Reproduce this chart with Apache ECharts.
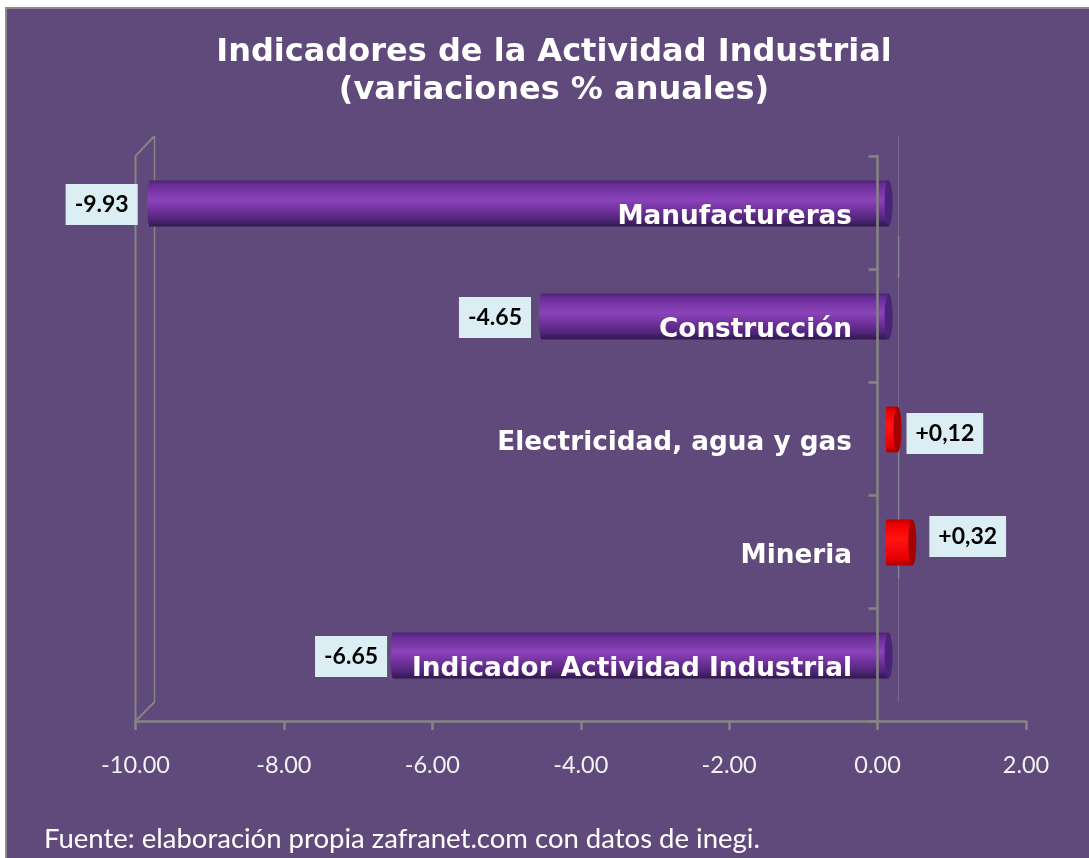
<!DOCTYPE html>
<html>
<head>
<meta charset="utf-8">
<title>Indicadores de la Actividad Industrial</title>
<script src="https://cdn.jsdelivr.net/npm/echarts@6/dist/echarts.min.js"></script>
<style>
  html, body { margin: 0; padding: 0; background: #fff; width: 1089px; height: 858px; overflow: hidden; }
  /* marco: solo se ve borde arriba e izquierda */
  .frame { position: absolute; left: 5px; top: 7px; right: 0; bottom: 0; background: #604a7b; border-left: 2px solid #8c8c8c; border-top: 2px solid #8c8c8c; }
  #chart { position: absolute; left: 0; top: 0; width: 1089px; height: 858px; }
</style>
</head>
<body>
<div class="frame"></div>
<div id="chart"></div>
<script>
  const categories = ['Manufactureras', 'Construcción', 'Electricidad, agua y gas', 'Mineria', 'Indicador Actividad Industrial'];
  const values = [-9.93, -4.65, 0.12, 0.32, -6.65];
  const valueLabels = ['-9.93', '-4.65', '+0,12', '+0,32', '-6.65'];

  const DEPTH_X = 11;   // desplazamiento 3D de las barras
  const DEPTH_Y = 9;
  const labelNudge = [[-12, 1], [-10.5, 1], [5, 4], [13, -6], [-6, 1]];   // las etiquetas estan movidas a mano en el original

  const purple = new echarts.graphic.LinearGradient(0, 0, 0, 1, [
    { offset: 0, color: '#4a2470' },
    { offset: 0.08, color: '#672c94' },
    { offset: 0.42, color: '#8b43bb' },
    { offset: 0.65, color: '#6f3199' },
    { offset: 0.85, color: '#4f2678' },
    { offset: 1, color: '#33174f' }
  ]);
  const red = new echarts.graphic.LinearGradient(0, 0, 0, 1, [
    { offset: 0, color: '#c00000' },
    { offset: 0.12, color: '#f20000' },
    { offset: 0.42, color: '#ff1414' },
    { offset: 0.85, color: '#e80000' },
    { offset: 1, color: '#a80000' }
  ]);

  // cilindro de cada barra
  function renderBar(params, api) {
    const i = params.dataIndex;
    const val = api.value(0);
    const p0 = api.coord([0, i]);
    const p1 = api.coord([val, i]);
    const h = api.size([0, 1])[1] * 0.405;
    const cy = p0[1] - DEPTH_Y;
    const left = Math.min(p0[0], p1[0]) + DEPTH_X - 2;
    const right = Math.max(p0[0], p1[0]) + DEPTH_X;
    const fill = val < 0 ? purple : red;
    const capColor = val < 0 ? '#4a2478' : '#a50000';
    const nudge = labelNudge[i];
    return {
      type: 'group',
      children: [
        { type: 'ellipse', shape: { cx: left, cy: cy, rx: val < 0 ? 2.5 : 1, ry: h / 2 }, style: { fill: fill } },
        { type: 'rect', shape: { x: left, y: cy - h / 2, width: right - left, height: h }, style: { fill: fill } },
        { type: 'ellipse', shape: { cx: right, cy: cy, rx: 4, ry: h / 2 }, style: { fill: capColor } },
        {
          type: 'text',
          x: (val < 0 ? left : right + 4) + nudge[0],
          y: cy + nudge[1],
          style: {
            text: valueLabels[i],
            fill: '#000',
            font: 'bold 23px Lato, "Open Sans", sans-serif',
            backgroundColor: '#daeef3',
            padding: [9, 9, 9, 9],
            align: val < 0 ? 'right' : 'left',
            verticalAlign: 'middle'
          }
        }
      ]
    };
  }

  // paredes del grafico 3D
  function renderWalls(params, api) {
    const c = params.coordSys;
    const bottom = c.y + c.height;
    const zero = api.coord([0, 0])[0];
    const line = (x1, y1, x2, y2, color, width) => ({
      type: 'line',
      shape: { x1: x1, y1: y1, x2: x2, y2: y2 },
      style: { stroke: color, lineWidth: width }
    });
    return {
      type: 'group',
      children: [
        line(c.x, c.y, c.x, bottom, '#858585', 2),
        line(c.x + 19, c.y - 20, c.x + 19, bottom - 19, '#858585', 1.5),
        line(c.x, c.y, c.x + 19, c.y - 20, '#858585', 2),
        line(c.x, bottom, c.x + 19, bottom - 19, '#858585', 2),
        line(zero + 21, c.y - 20, zero + 21, bottom - 19, '#76698c', 1),
        line(zero + 21, c.y + 80, zero + 21, c.y + 122, '#85808f', 1.5),
        line(zero + 21, c.y + 280, zero + 21, c.y + 422, '#85808f', 1.5)
      ]
    };
  }

  const chart = echarts.init(document.getElementById('chart'), null, { renderer: 'canvas' });
  chart.setOption({
    animation: false,
    backgroundColor: 'transparent',
    title: [{
      text: 'Indicadores de la Actividad Industrial\n(variaciones % anuales)',
      left: 549,
      top: 29,
      textAlign: 'center',
      textStyle: { color: '#fff', fontFamily: 'DejaVu Sans', fontWeight: 'bold', fontSize: 32, lineHeight: 38 }
    }, {
      text: 'Fuente: elaboración propia zafranet.com con datos de inegi.',
      left: 39,
      top: 820,
      textStyle: { color: '#fff', fontFamily: 'Lato', fontWeight: 'normal', fontSize: 27.5 }
    }],
    grid: { left: 135.5, right: 63, top: 156, bottom: 137, containLabel: false, outerBoundsMode: 'none' },
    xAxis: {
      type: 'value',
      min: -10,
      max: 2,
      interval: 2,
      splitLine: { show: false },
      axisLine: { show: true, onZero: false, lineStyle: { color: '#858585', width: 2.5 } },
      axisTick: { show: true, length: 9, lineStyle: { color: '#858585', width: 2.5 } },
      axisLabel: {
        color: '#f2f2f2',
        fontFamily: 'Lato',
        fontSize: 23.5,
        margin: 32,
        formatter: v => v.toFixed(2)
      }
    },
    yAxis: {
      type: 'category',
      inverse: true,
      data: categories,
      z: 3,
      axisLine: { show: true, onZero: true, lineStyle: { color: '#858585', width: 2.5 } },
      axisTick: { show: true, length: 9, lineStyle: { color: '#858585', width: 2.5 } },
      splitLine: { show: false },
      axisLabel: {
        interval: 0,
        color: '#fff',
        fontFamily: 'DejaVu Sans',
        fontWeight: 'bold',
        fontSize: 26.3,
        margin: -716.5,   // las etiquetas van pegadas al eje en cero, no al borde del grid
        verticalAlign: 'top',
        lineHeight: 10
      }
    },
    series: [{
      type: 'custom',
      name: 'paredes',
      z: 1,
      silent: true,
      renderItem: renderWalls,
      data: [0],
      encode: { x: 0 }
    }, {
      type: 'custom',
      name: 'variacion',
      z: 2,
      renderItem: renderBar,
      data: values.map(v => [v]),
      encode: { x: 0 }
    }]
  });
</script>
</body>
</html>
